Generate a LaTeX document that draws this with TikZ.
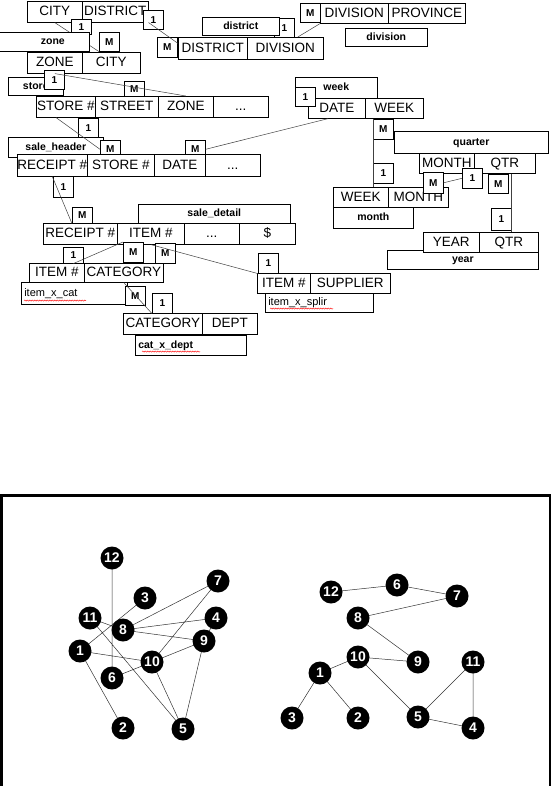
\documentclass[tikz,border=0pt]{standalone}
\usepackage{fontspec}
\setmainfont{Liberation Sans}
\usetikzlibrary{calc,backgrounds,decorations.pathmorphing}

\tikzset{
  cell/.style={draw, fill=white, anchor=north west, inner sep=0pt, minimum height=21pt,
    text height=10pt, text depth=2.5pt, font=\fontsize{13.5}{14}\selectfont},
  tag/.style={draw, fill=white, anchor=north west, inner sep=0pt, minimum height=19pt,
    text height=8pt, text depth=2pt, font=\bfseries\fontsize{10.5}{12}\selectfont},
  lefttag/.style={tag, inner xsep=3pt, text width=#1, align=left, font=\fontsize{11}{12}\selectfont},
  card/.style={draw, fill=white, anchor=north west, inner sep=0pt, minimum width=20pt,
    minimum height=19pt, font=\bfseries\fontsize{10}{12}\selectfont},
  link/.style={line width=0.5pt, black!75},
  squiggle/.style={red, line width=0.4pt, decorate,
    decoration={snake, amplitude=0.6pt, segment length=2.5pt}},
  vertex/.style={circle, fill=black, inner sep=0pt, minimum size=23pt, text=white,
    font=\bfseries\fontsize{14}{14}\selectfont},
  edge/.style={line width=0.5pt, black!80},
}

\begin{document}
\begin{tikzpicture}[x=1pt, y=-1pt, line width=0.6pt]
\useasboundingbox (0,0) rectangle (555,786);

% city / district / zone
\node[cell, minimum width=55pt] (cd-city) at (27,1) {CITY};
\node[cell, minimum width=66pt] (cd-district) at (82,1) {DISTRICT};
\node[card, minimum height=15pt] (one-cd) at (71,19) {1};
\node[card] (m-zc) at (99,32) {M};
\node[cell, minimum width=55pt] (zc-zone) at (27,52) {ZONE};
\node[cell, minimum width=58pt] (zc-city) at (82,52) {CITY};
\draw[link] (cd-city.south) -- (m-zc.south west);
\node[tag, minimum width=95pt] (t-zone) at (-6,32) {\hspace*{22pt}zone};

% store
\node[tag, minimum width=55pt, minimum height=18pt] (t-store) at (8,77) {store};
\node[card] (one-zc) at (44,70) {1};
\node[card, minimum height=16pt] (m-st) at (124,81) {M};
\node[cell, minimum width=59pt] (st-store) at (36,96) {STORE \#};
\node[cell, minimum width=63pt] (st-street) at (95,96) {STREET};
\node[cell, minimum width=55pt] (st-zone) at (158,96) {ZONE};
\node[cell, minimum width=55pt] (st-more) at (213,96) {...};

% district / division
\node[card] (one-cdd) at (143,10) {1};
\node[card, minimum height=20pt] (m-dd) at (157,37) {M};
\node[cell, minimum width=69pt, minimum height=22pt] (dd-district) at (178,37) {DISTRICT};
\node[cell, minimum width=76pt, minimum height=22pt] (dd-division) at (247,37) {DIVISION};
\node[card] (one-dd) at (274,18) {1};
\node[tag, minimum width=77pt, minimum height=18pt] (t-district) at (202,17) {district};
\node[card] (m-dp) at (300,3) {M};
\node[cell, minimum width=68pt, minimum height=20pt] (dp-division) at (320,3) {DIVISION};
\node[cell, minimum width=77pt, minimum height=20pt] (dp-province) at (388,3) {PROVINCE};
\node[tag, minimum width=82pt, minimum height=18pt] (t-division) at (345,28) {division};

% week / month / quarter / year
\node[tag, minimum width=82pt, minimum height=21pt] (t-week) at (295,77) {week};
\node[cell, minimum width=57pt, minimum height=20pt] (wk-date) at (308,98) {DATE};
\node[cell, minimum width=58pt, minimum height=20pt] (wk-week) at (365,98) {WEEK};
\node[card] (one-wk) at (295,87) {1};
\node[card, minimum height=20pt] (m-wk) at (373,119) {M};
\node[tag, minimum width=154pt, minimum height=22pt] (t-quarter) at (394,131) {quarter};
\node[cell, minimum width=55pt, minimum height=20pt] (mq-month) at (419,153) {MONTH};
\node[cell, minimum width=61pt, minimum height=20pt] (mq-qtr) at (474,153) {QTR};
\node[card, minimum height=20pt] (one-wm) at (373,163) {1};
\node[card, minimum height=20pt] (one-mq) at (462,168) {1};
\node[card] (m-mq) at (488,174) {M};
\node[cell, minimum width=55pt, minimum height=20pt] (wm-week) at (333,187) {WEEK};
\node[cell, minimum width=60pt, minimum height=20pt] (wm-month) at (388,187) {MONTH};
\node[tag, minimum width=80pt, minimum height=21pt] (t-month) at (333,207) {month};
\node[card, minimum height=21pt] (m-wm) at (423,172) {M};
\node[card, minimum height=22pt] (one-yq) at (491,208) {1};
\node[tag, minimum width=151pt, minimum height=19pt] (t-year) at (387,250) {year};
\node[cell, minimum width=56pt, minimum height=20pt] (yq-year) at (423,232) {YEAR};
\node[cell, minimum width=59pt, minimum height=20pt] (yq-qtr) at (479,232) {QTR};

% sale header
\node[card] (one-st) at (78,118) {1};
\node[tag, minimum width=95pt, minimum height=20pt] (t-saleheader) at (8,137) {sale\_header};
\node[card, minimum height=18pt] (m-shstore) at (100,140) {M};
\node[card, minimum height=18pt] (m-shdate) at (185,140) {M};
\node[cell, minimum width=70pt, minimum height=22pt] (sh-receipt) at (17,154) {RECEIPT \#};
\node[cell, minimum width=67pt, minimum height=22pt] (sh-store) at (87,154) {STORE \#};
\node[cell, minimum width=51pt, minimum height=22pt] (sh-date) at (154,154) {DATE};
\node[cell, minimum width=55pt, minimum height=22pt] (sh-more) at (205,154) {...};

% sale detail
\node[card, minimum height=21pt] (one-sh) at (53,176) {1};
\node[card, minimum height=16pt] (m-sd) at (72,207) {M};
\node[tag, minimum width=152pt] (t-saledetail) at (138,204) {sale\_detail};
\node[cell, minimum width=74pt] (sd-receipt) at (43,223) {RECEIPT \#};
\node[cell, minimum width=67pt] (sd-item) at (117,223) {ITEM \#};
\node[cell, minimum width=55pt] (sd-more) at (184,223) {...};
\node[cell, minimum width=56pt] (sd-amount) at (239,223) {\$};

% item x category
\node[cell, minimum width=55pt, minimum height=19pt] (ic-item) at (29,263) {ITEM \#};
\node[cell, minimum width=79pt, minimum height=19pt] (ic-cat) at (84,263) {CATEGORY};
\node[lefttag=100pt, minimum height=22pt] (t-itemcat) at (21,282) {item\_x\_cat};
\node[card, minimum height=16pt] (one-ic) at (63,247) {1};
\node[card, minimum height=20pt] (m-sditem) at (123,242) {M};
\node[card, minimum height=20pt] (m-sditem2) at (155,243) {M};
\node[card] (m-ic) at (125,286) {M};
\node[card, minimum height=20pt] (one-cx) at (152,293) {1};
\node[cell, minimum width=79pt] (cx-cat) at (123,313) {CATEGORY};
\node[cell, minimum width=55pt] (cx-dept) at (202,313) {DEPT};
\node[lefttag=105pt, minimum height=20pt, font=\bfseries\fontsize{10.5}{12}\selectfont] (t-catdept) at (135,335) {cat\_x\_dept};

% item x supplier
\node[card, minimum height=20pt] (one-is) at (258,253) {1};
\node[cell, minimum width=53pt, minimum height=20pt] (is-item) at (257,273) {ITEM \#};
\node[cell, minimum width=80pt, minimum height=20pt] (is-supplier) at (310,273) {SUPPLIER};
\node[lefttag=102pt] (t-itemsup) at (265,293) {item\_x\_splir};

% spelling marks
\draw[squiggle] ($(t-itemcat.south west)+(3,-4)$) -- +(62,0);
\draw[squiggle] ($(t-catdept.south west)+(7,-4)$) -- +(58,0);
\draw[squiggle] ($(t-itemsup.south west)+(5,-4)$) -- +(63,0);

% links
\draw[link] (cd-district.south east) -- (dd-district.172);
\draw[link] (dd-division.42) -- (dp-division.south west);
\draw[link] (zc-zone.south) -- (st-zone.north);
\draw[link] (st-store.-132) -- (m-shstore.west);
\draw[link] (wk-date.-130) -- (m-shdate.east);
\draw[link] (m-wk.west |- wk-week.south) -- (m-wk.west |- wm-week.north);
\draw[link] (m-wm.east) -- (one-mq.west);
\draw[link] (one-yq.east |- mq-qtr.south) -- (one-yq.east |- yq-qtr.north);
\draw[link] (sh-receipt.south) -- (m-sd.south west);
\draw[link] (m-sditem.north west) -- (one-ic.south);
\draw[link] (sd-item.south) -- (one-is.south west);
\draw[link] (ic-cat.south) -- (one-cx.south west);

% frame
\draw[line width=2.5pt] (1.5,800) -- (1.5,495.5) -- (550,495.5) -- (550,800);

% tangled graph
\node[vertex] (l12) at (112,558) {12};
\node[vertex] (l3) at (145,598) {3};
\node[vertex] (l7) at (218,581) {7};
\node[vertex] (l11) at (90,618) {11};
\node[vertex] (l8) at (123,630) {8};
\node[vertex] (l4) at (216,618) {4};
\node[vertex] (l9) at (204,641) {9};
\node[vertex] (l1) at (80,651) {1};
\node[vertex] (l10) at (152,662) {10};
\node[vertex] (l6) at (112,678) {6};
\node[vertex] (l2) at (123,728) {2};
\node[vertex] (l5) at (183,729) {5};

% untangled graph
\node[vertex] (r12) at (331,592) {12};
\node[vertex] (r6) at (397,585) {6};
\node[vertex] (r7) at (457,596) {7};
\node[vertex] (r8) at (358,618) {8};
\node[vertex] (r10) at (358,657) {10};
\node[vertex] (r9) at (418,662) {9};
\node[vertex] (r11) at (473,662) {11};
\node[vertex] (r1) at (320,673) {1};
\node[vertex] (r3) at (292,718) {3};
\node[vertex] (r2) at (358,718) {2};
\node[vertex] (r5) at (418,717) {5};
\node[vertex] (r4) at (473,728) {4};

\begin{scope}[on background layer]
\draw[edge] (l12.center) -- (l6.center) (l3.center) -- (l1.center)
  (l7.center) -- (l8.center) (l7.center) -- (l10.center)
  (l11.center) -- (l8.center) (l8.center) -- (l4.center)
  (l8.center) -- (l9.center) (l9.center) -- (l10.center)
  (l10.center) -- (l6.center) (l1.center) -- (l10.center)
  (l1.center) -- (l2.center) (l10.center) -- (l5.center)
  (l11.center) -- (l5.center) (l9.center) -- (l5.center)
  (l4.center) -- (l9.center);
\draw[edge] (r12.center) -- (r6.center) (r6.center) -- (r7.center)
  (r7.center) -- (r8.center) (r8.center) -- (r9.center)
  (r10.center) -- (r9.center) (r10.center) -- (r1.center)
  (r1.center) -- (r3.center) (r1.center) -- (r2.center)
  (r10.center) -- (r5.center) (r5.center) -- (r11.center)
  (r5.center) -- (r4.center) (r4.center) -- (r11.center);
\end{scope}

\end{tikzpicture}
\end{document}
